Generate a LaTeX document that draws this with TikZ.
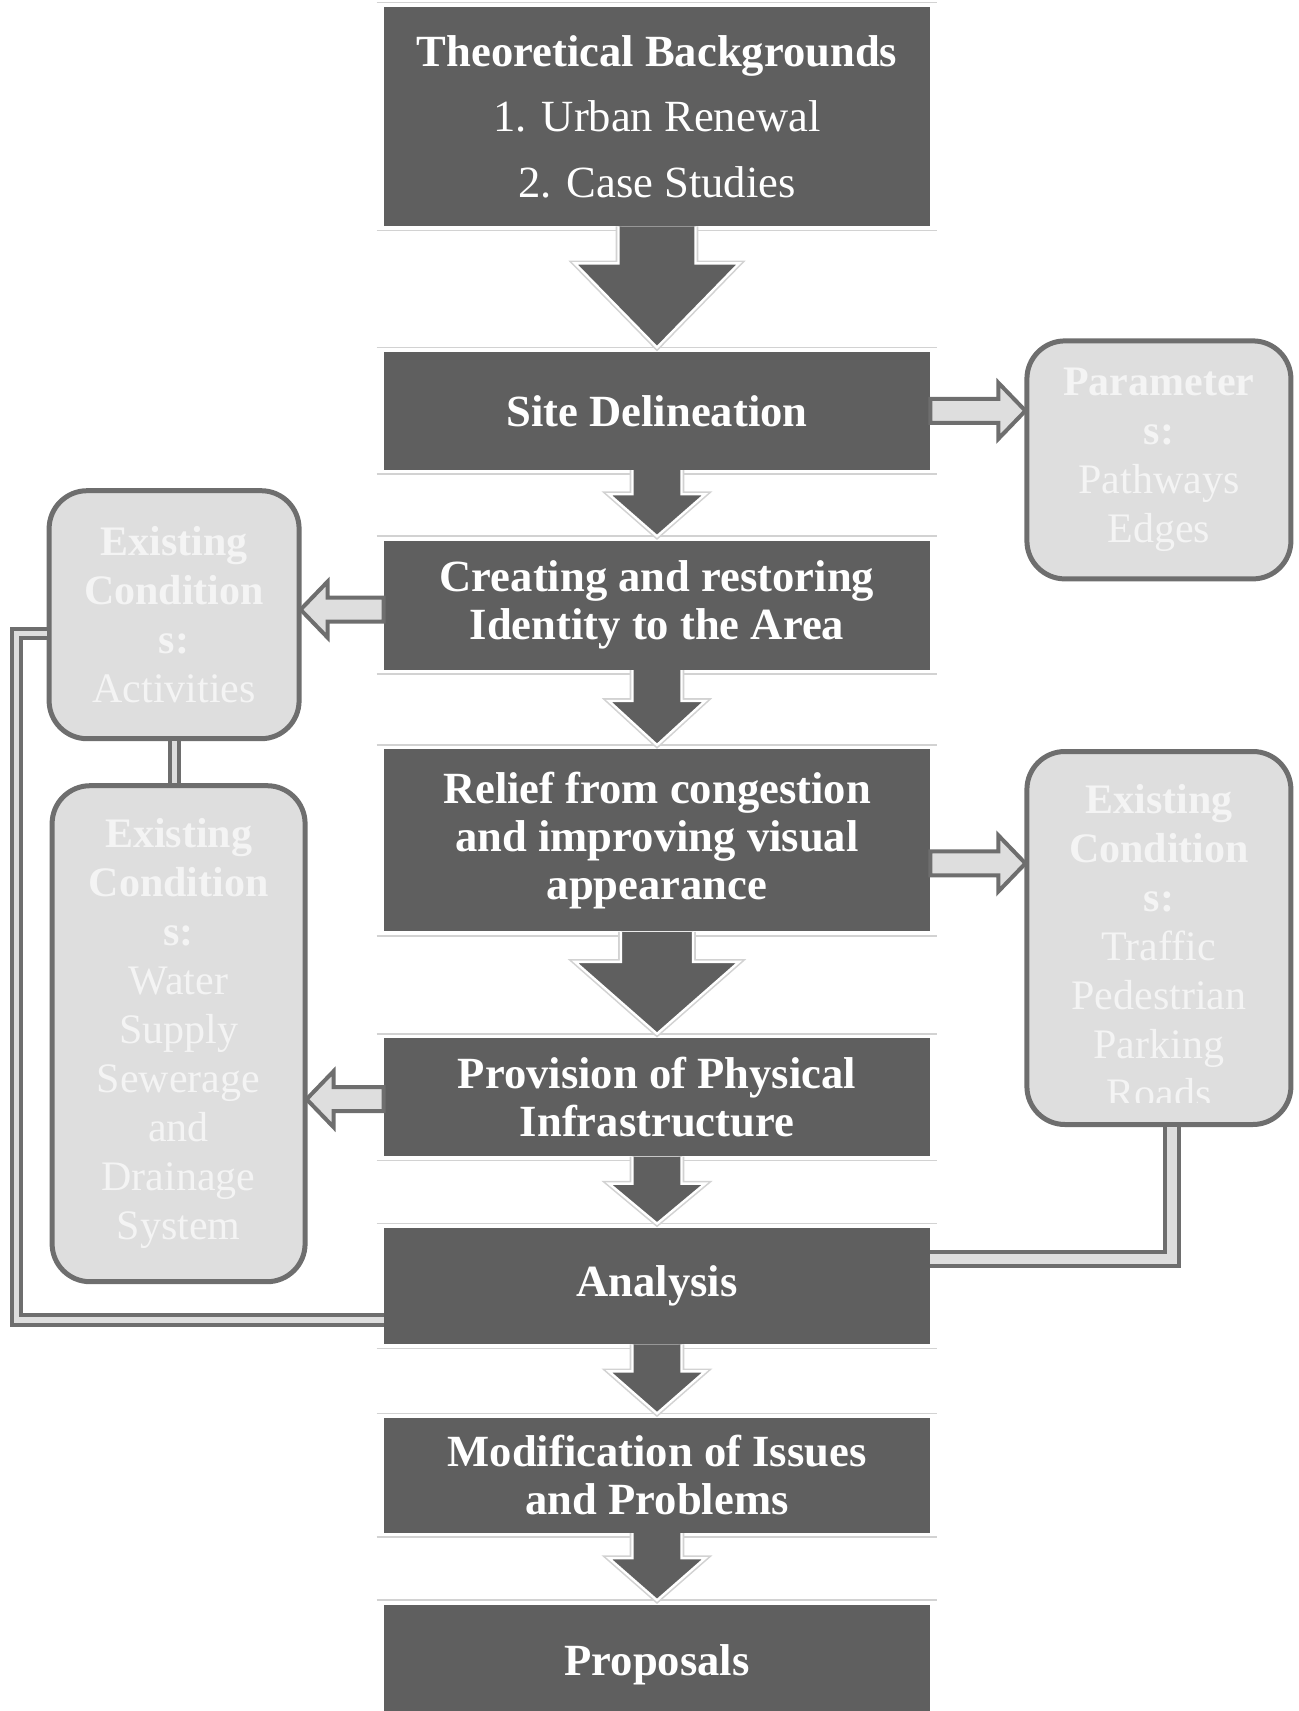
\documentclass[tikz,border=0pt]{standalone}
\usepackage{fontspec}
\setmainfont{Liberation Serif}
\usetikzlibrary{positioning, calc}

\definecolor{boxgray}{HTML}{5F5F5F}
\definecolor{sidefill}{HTML}{DEDEDE}
\definecolor{sideline}{HTML}{6E6E6E}
\definecolor{sidetext}{HTML}{F4F4F4}
\definecolor{rimgray}{HTML}{D2D2D2}

\tikzset{
	stage/.style={fill=boxgray, text=white, minimum width=273pt, align=center, inner sep=2pt,
		font=\fontsize{22.3}{24}\selectfont\bfseries},
	side/.style={draw=sideline, line width=2.5pt, fill=sidefill, rounded corners=19pt,
		text=sidetext, align=center, inner sep=0pt, font=\fontsize{21}{24.5}\selectfont},
	downarrow/.style={fill=boxgray, draw=white, line width=1.2pt, line join=miter,
		preaction={draw=rimgray, line width=2.8pt}},
	sidearrow/.style={fill=sidefill, draw=sideline, line width=2pt, line join=miter},
	thinlink/.style={draw=sideline, line width=2pt, double=sidefill, double distance=2.6pt},
	widelink/.style={draw=sideline, line width=2pt, double=sidefill, double distance=5pt},
	rim/.style={draw=rimgray, line width=0.8pt}
}

% #1 from, #2 to, #3 half shaft, #4 half head, #5 head length
\newcommand{\flowdown}[5]{%
	\draw[downarrow] ($(#1.south)+(-#3,0)$) |- ($(#2.north)+(-#4,#5+2pt)$)
		-- ($(#2.north)+(0,2pt)$) -- ($(#2.north)+(#4,#5+2pt)$) -| ($(#1.south)+(#3,0)$);}
% #1 from, #2 to, #3 vertical offset
\newcommand{\flowright}[3]{%
	\coordinate (p) at ($(#1.east)+(0,#3)$);
	\draw[sidearrow] ($(p)+(0,6pt)$) -- ($(p -| #2.west)+(-13pt,6pt)$) -- ++(0,8pt)
		-- ($(p -| #2.west)+(0.5pt,0)$) -- ($(p -| #2.west)+(-13pt,-14pt)$) -- ++(0,8pt)
		-- ($(p)+(0,-6pt)$) -- cycle;}
\newcommand{\flowleft}[3]{%
	\coordinate (p) at ($(#1.west)+(0,#3)$);
	\draw[sidearrow] ($(p)+(0,6pt)$) -- ($(p -| #2.east)+(13pt,6pt)$) -- ++(0,8pt)
		-- ($(p -| #2.east)+(-0.5pt,0)$) -- ($(p -| #2.east)+(13pt,-14pt)$) -- ++(0,8pt)
		-- ($(p)+(0,-6pt)$) -- cycle;}

\begin{document}
\begin{tikzpicture}
	\useasboundingbox (0,0) rectangle (649.5pt,-855.5pt);

	% main column
	\node[stage, minimum height=109.5pt, font=\fontsize{22.3}{32.7}\selectfont] (theory) at (328.5pt,-58.25pt)
		{\textbf{Theoretical Backgrounds}\\1. Urban Renewal\\2. Case Studies};
	\node[stage, minimum height=59pt, below=62.5pt of theory] (site) {Site Delineation};
	\node[stage, minimum height=64.5pt, below=35pt of site] (ident) {Creating and restoring\\Identity to the Area};
	\node[stage, minimum height=91pt, below=39.5pt of ident] (relief) {Relief from congestion\\and improving visual\\appearance};
	\node[stage, minimum height=59pt, below=53pt of relief] (infra) {Provision of Physical\\Infrastructure};
	\node[stage, minimum height=58pt, below=35.5pt of infra] (analysis) {Analysis};
	\node[stage, minimum height=57.5pt, below=36.5pt of analysis] (modif) {Modification of Issues\\and Problems};
	\node[stage, minimum height=60pt, below=35.5pt of modif] (proposals) {Proposals};

	% side boxes
	\node[side, minimum width=132pt, minimum height=119pt, below right=-6.5pt and 47pt of site.north east] (param)
		{\textbf{Parameter}\\\textbf{s:}\\Pathways\\Edges};
	\node[side, minimum width=125pt, minimum height=124pt, below left=-26pt and 41pt of ident.north west] (act)
		{\textbf{Existing}\\\textbf{Condition}\\\textbf{s:}\\Activities};
	\node[side, minimum width=126.5pt, minimum height=248pt, below=21pt of act, xshift=2.25pt] (water)
		{\textbf{Existing}\\\textbf{Condition}\\\textbf{s:}\\Water\\Supply\\Sewerage\\and\\Drainage\\System};
	\node[side, minimum width=132pt, minimum height=186.5pt, below right=0pt and 47pt of relief.north east,
		path picture={
			\clip ([yshift=11pt]path picture bounding box.south west) rectangle (path picture bounding box.north east);
			\node[anchor=center, text=sidetext, align=center, font=\fontsize{21}{24.5}\selectfont]
				at ([yshift=-4pt]path picture bounding box.center)
				{\textbf{Existing}\\\textbf{Condition}\\\textbf{s:}\\Traffic\\Pedestrian\\Parking\\Roads};
		}] (traffic) {};

	% faint rims
	\foreach \b in {theory,site,ident,relief,infra,analysis,modif,proposals}{
		\draw[rim] ([xshift=-3.5pt,yshift=2pt]\b.north west) -- ([xshift=3.5pt,yshift=2pt]\b.north east);
		\draw[rim] ([xshift=-3.5pt,yshift=-2pt]\b.south west) -- ([xshift=3.5pt,yshift=-2pt]\b.south east);
	}

	% arrows down the column
	\flowdown{theory}{site}{19.25pt}{41pt}{42pt}
	\flowdown{site}{ident}{12.25pt}{24pt}{21pt}
	\flowdown{ident}{relief}{12.25pt}{24pt}{22pt}
	\flowdown{relief}{infra}{18pt}{41pt}{36pt}
	\flowdown{infra}{analysis}{12.25pt}{24pt}{20pt}
	\flowdown{analysis}{modif}{12.25pt}{24pt}{21pt}
	\flowdown{modif}{proposals}{12.25pt}{24pt}{21pt}

	% side arrows
	\flowright{site}{param}{0pt}
	\flowleft{ident}{act}{-2.25pt}
	\flowright{relief}{traffic}{-11.5pt}
	\flowleft{infra}{water}{-1pt}

	% links back to analysis
	\coordinate (loopL) at (8.25pt,0);
	\coordinate (back) at ([yshift=-17pt]analysis.west);
	\coordinate (fwd) at ([yshift=13.5pt]analysis.east);
	\draw[thinlink] (act.south) -- (act.south |- water.north);
	\draw[thinlink] ([yshift=-9.5pt]act.west) -| (loopL |- back) -- (back);
	\draw[widelink] ([xshift=6.5pt]traffic.south) |- (fwd);
\end{tikzpicture}
\end{document}
